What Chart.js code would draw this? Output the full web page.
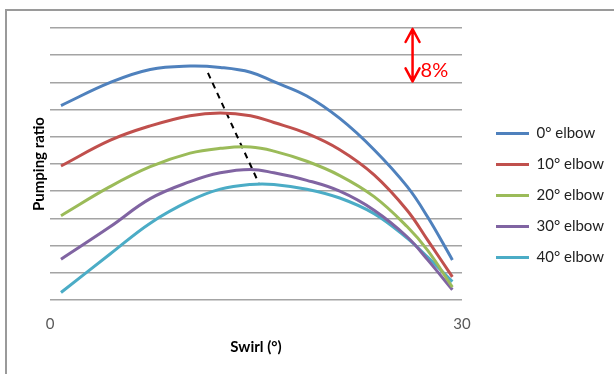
<!DOCTYPE html>
<html>
<head>
<meta charset="utf-8">
<script src="https://cdn.jsdelivr.net/npm/chart.js@4"></script>
<style>
html, body { margin: 0; padding: 0; background: #fff; overflow: hidden; }
#frame { position: absolute; left: 5px; top: 9px; width: 700px; height: 420px;
         border-left: 2px solid #9a9a9a; border-top: 2px solid #9a9a9a; }
#wrap { position: absolute; left: 0; top: 0; width: 614px; height: 374px; }
</style>
</head>
<body>
<div id="frame"></div>
<div id="wrap"><canvas id="chart"></canvas></div>
<script>
// swirl positions (deg) and pumping ratio (relative, % units, gridline = 4%)
const swirl = [0.8, 4.4, 7.3, 10.2, 12.4, 14.6, 16.3, 18.7, 21.1, 23.6, 26.0, 27.5, 29.3];
const elbow0 = [28.6, 32.0, 33.9, 34.4, 34.2, 33.5, 32.1, 30.0, 26.7, 22.1, 16.7, 12.2, 5.9];
const elbow10 = [19.7, 23.5, 25.6, 27.1, 27.5, 27.1, 26.1, 24.5, 22.1, 18.4, 13.2, 8.8, 3.4];
const elbow20 = [12.4, 16.7, 19.6, 21.6, 22.3, 22.5, 21.9, 20.4, 18.3, 15.2, 10.8, 7.3, 1.9];
const elbow30 = [6.0, 10.8, 14.9, 17.4, 18.7, 19.2, 18.7, 17.6, 16.0, 13.2, 9.3, 5.9, 1.5];
const elbow40 = [1.1, 6.8, 11.3, 14.6, 16.3, 17.0, 17.0, 16.3, 15.0, 12.7, 9.1, 6.3, 2.7];
const seriesNames = ['0° elbow', '10° elbow', '20° elbow', '30° elbow', '40° elbow'];
const seriesColors = ['#4F81BD', '#C0504D', '#9BBB59', '#8064A2', '#4BACC6'];

// dashed line through the peaks
const peakX = [11.5, 15.2];
const peakY = [33.4, 17.2];

// red 8% scale arrow
const arrowX = 26.4;
const arrowY = [40, 32];
const arrowLabel = '8%';

const xTicks = [0, 30];

const toPoints = (xs, ys) => xs.map((x, i) => ({ x: x, y: ys[i] }));

const seriesData = [elbow0, elbow10, elbow20, elbow30, elbow40];
const datasets = seriesData.map((ys, i) => ({
    label: seriesNames[i],
    data: toPoints(swirl, ys),
    borderColor: seriesColors[i],
    backgroundColor: seriesColors[i],
    borderWidth: 3,
    pointRadius: 0,
    tension: 0.4
}));
datasets.push({
    label: 'peak',
    data: toPoints(peakX, peakY),
    borderColor: '#000',
    borderWidth: 2,
    borderDash: [6, 5],
    pointRadius: 0
});

// put the legend where Excel had it
const legendPlace = {
    id: 'legendPlace',
    beforeLayout(chart) {
        const lg = chart.legend;
        if (lg && !lg._wrapped) {
            const fit = lg.fit.bind(lg);
            lg.fit = function () { fit(); this.width = 152; };
            lg._wrapped = true;
        }
    },
    afterLayout(chart) {
        chart.legend.left += 18;
        chart.legend.right += 18;
    }
};

const arrowNote = {
    id: 'arrowNote',
    afterDatasetsDraw(chart) {
        const { ctx, scales: { x, y } } = chart;
        const ax = x.getPixelForValue(arrowX);
        const y1 = y.getPixelForValue(arrowY[0]) + 1;
        const y2 = y.getPixelForValue(arrowY[1]) - 1;
        ctx.save();
        ctx.strokeStyle = '#ff0000';
        ctx.lineWidth = 2.5;
        ctx.lineCap = 'round';
        ctx.lineJoin = 'round';
        ctx.beginPath();
        ctx.moveTo(ax, y1);
        ctx.lineTo(ax, y2);
        ctx.moveTo(ax - 7, y1 + 13);
        ctx.lineTo(ax, y1);
        ctx.lineTo(ax + 7, y1 + 13);
        ctx.moveTo(ax - 7, y2 - 13);
        ctx.lineTo(ax, y2);
        ctx.lineTo(ax + 7, y2 - 13);
        ctx.stroke();
        ctx.fillStyle = '#ff0000';
        ctx.font = '20px Lato';
        ctx.textBaseline = 'middle';
        ctx.fillText(arrowLabel, ax + 8, y2 - 11);
        ctx.restore();
    }
};

new Chart(document.getElementById('chart'), {
    type: 'line',
    data: { datasets: datasets },
    plugins: [legendPlace, arrowNote],
    options: {
        responsive: true,
        maintainAspectRatio: false,
        animation: false,
        layout: { padding: { left: 30, top: 28, right: 0, bottom: 11 } },
        plugins: {
            tooltip: { enabled: false },
            legend: {
                position: 'right',
                labels: {
                    usePointStyle: true,
                    pointStyle: 'line',
                    pointStyleWidth: 33,
                    padding: 16,
                    color: '#222',
                    font: { family: 'Lato', size: 15 },
                    filter: item => item.text !== 'peak'
                }
            }
        },
        scales: {
            x: {
                type: 'linear',
                min: 0,
                max: 30,
                afterBuildTicks: s => { s.ticks = xTicks.map(v => ({ value: v })); },
                afterFit: s => { s.height = 63; },
                grid: { display: false, drawTicks: false },
                border: { display: false },
                ticks: { padding: 15, color: '#595959', font: { family: 'Lato', size: 15 } },
                title: {
                    display: true,
                    text: 'Swirl (°)',
                    color: '#000',
                    padding: { top: 0, bottom: 7 },
                    font: { family: 'Lato', size: 15, weight: 'bold' }
                }
            },
            y: {
                min: 0,
                max: 40,
                afterFit: s => { s.width = 20; },
                ticks: { stepSize: 4, display: false },
                grid: { color: '#a4a4a4', lineWidth: 1.5, drawTicks: false },
                border: { display: false },
                title: {
                    display: true,
                    text: 'Pumping ratio',
                    color: '#000',
                    padding: 0,
                    font: { family: 'Lato', size: 15, weight: 'bold' }
                }
            }
        }
    }
});
</script>
</body>
</html>
